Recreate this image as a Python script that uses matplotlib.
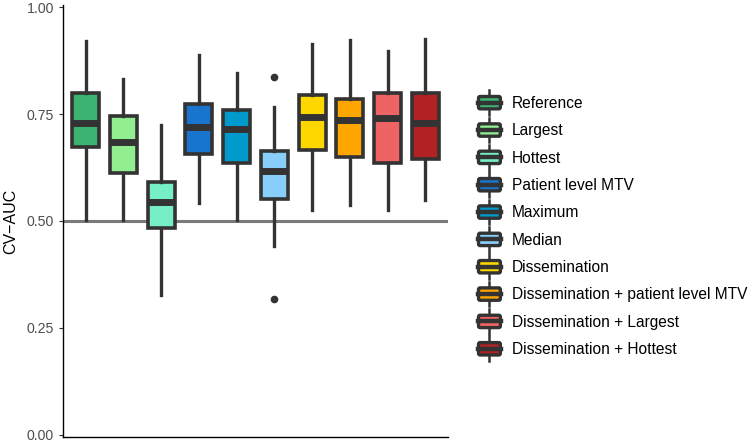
import matplotlib
matplotlib.use("Agg")
import matplotlib.pyplot as plt
from matplotlib.legend_handler import HandlerBase
from matplotlib.patches import Patch, FancyBboxPatch
from matplotlib.lines import Line2D

plt.rcParams['font.family'] = ['Liberation Sans', 'DejaVu Sans']

labels = ["Reference", "Largest", "Hottest", "Patient level MTV", "Maximum", "Median",
          "Dissemination", "Dissemination + patient level MTV",
          "Dissemination + Largest", "Dissemination + Hottest"]
colors = ["#3CB371", "#90EE90", "#76EEC6", "#1874CD", "#009ACD", "#87CEFA",
          "#FFD700", "#FFA500", "#EE6363", "#B22222"]

# box statistics
whislo = [0.502, 0.502, 0.327, 0.541, 0.502, 0.442, 0.526, 0.537, 0.526, 0.549]
q1     = [0.674, 0.613, 0.483, 0.656, 0.635, 0.551, 0.666, 0.649, 0.636, 0.646]
med    = [0.730, 0.685, 0.544, 0.720, 0.715, 0.617, 0.743, 0.735, 0.740, 0.728]
q3     = [0.800, 0.745, 0.591, 0.774, 0.759, 0.664, 0.794, 0.786, 0.800, 0.800]
whishi = [0.920, 0.832, 0.724, 0.889, 0.847, 0.767, 0.913, 0.923, 0.898, 0.925]
fliers = [[], [], [], [], [], [0.836, 0.317], [], [], [], []]

dark = "#333333"


class BoxHandler(HandlerBase):
    def create_artists(self, legend, orig_handle, xdescent, ydescent,
                       width, height, fontsize, trans):
        fc = orig_handle.get_facecolor()
        cx = width / 2 - xdescent
        y0 = -ydescent
        whisk = Line2D([cx, cx], [y0 - 0.3 * height, y0 + 1.3 * height],
                       color=dark, lw=1.8, transform=trans)
        box = FancyBboxPatch((-xdescent + 1.1, y0 + 1.1), width - 2.2, height - 2.2,
                             boxstyle="round,pad=0,rounding_size=1.2",
                             facecolor=fc, edgecolor=dark, lw=2.4,
                             transform=trans)
        mid = Line2D([-xdescent + 1, -xdescent + width - 1],
                     [y0 + height / 2, y0 + height / 2],
                     color=dark, lw=3.2, transform=trans)
        return [whisk, box, mid]


fig = plt.figure(figsize=(7.51, 4.44), dpi=100)
ax = fig.add_axes([63 / 751, 7 / 444, (448 - 63) / 751, 432 / 444])

stats = []
for i in range(len(labels)):
    stats.append(dict(whislo=whislo[i], q1=q1[i], med=med[i], q3=q3[i],
                      whishi=whishi[i], fliers=fliers[i]))

ax.axhline(0.5, color="#7a7a7a", lw=2.2, zorder=1)

pos = list(range(1, len(labels) + 1))
bp = ax.bxp(stats, positions=pos, widths=0.72, patch_artist=True,
            showcaps=False, zorder=3,
            boxprops=dict(edgecolor=dark, linewidth=2.6),
            medianprops=dict(color=dark, linewidth=5.0, solid_capstyle="butt"),
            whiskerprops=dict(color=dark, linewidth=2.4),
            flierprops=dict(marker="o", markerfacecolor=dark, markeredgecolor=dark,
                            markersize=4.5))
for patch, c in zip(bp["boxes"], colors):
    patch.set_facecolor(c)

ax.set_xlim(0.4, len(labels) + 0.6)
ax.set_ylim(-0.005, 1.005)
ax.set_yticks([0, 0.25, 0.5, 0.75, 1.0])
ax.set_yticklabels(["0.00", "0.25", "0.50", "0.75", "1.00"])
ax.set_xticks([])
ax.tick_params(axis="y", labelsize=10.2, colors="#333333", labelcolor="#4d4d4d",
               length=3, width=0.8)
ax.spines["top"].set_visible(False)
ax.spines["right"].set_visible(False)
ax.spines["left"].set_linewidth(1.0)
ax.spines["bottom"].set_linewidth(1.0)
ax.set_ylabel("CV\u2212AUC", fontsize=11.5, color="black", labelpad=6)

handles = [Patch(facecolor=c) for c in colors]
fig.legend(handles, labels, handler_map={Patch: BoxHandler()},
           loc="center left", bbox_to_anchor=(477 / 751, 1 - 226 / 444),
           frameon=False, fontsize=11.2, handlelength=1.6, handleheight=1.15,
           handletextpad=0.65, labelspacing=0.73, borderaxespad=0, borderpad=0)

fig.savefig("out.png", dpi=100)
